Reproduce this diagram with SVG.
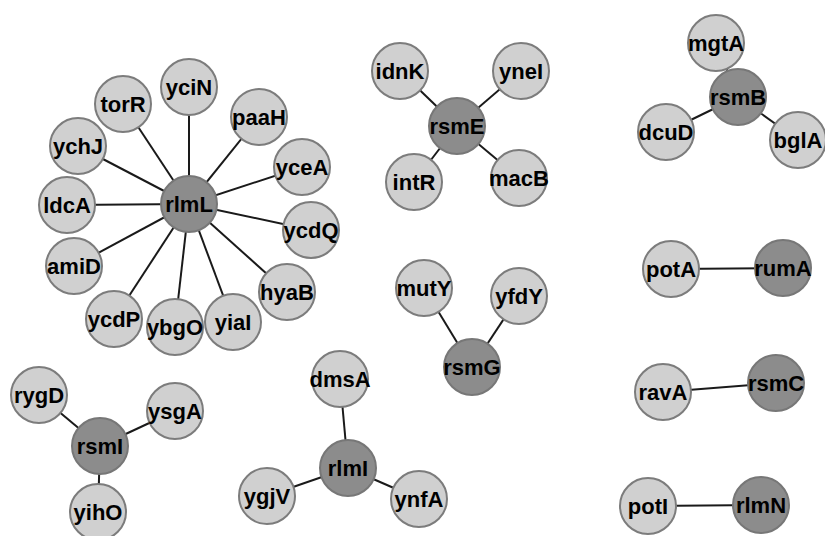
<svg xmlns="http://www.w3.org/2000/svg" width="825" height="536" viewBox="0 0 825 536">
<style>
.e{stroke:#1a1a1a;stroke-width:2;fill:none}
.n circle{fill:#d0d0d0;stroke:#7c7c7c;stroke-width:2}
.h circle{fill:#8c8c8c;stroke:#777;stroke-width:2}
text{font-family:"Liberation Sans",Arial,sans-serif;font-weight:bold;font-size:22px;fill:#000;text-anchor:middle;dominant-baseline:central}
</style>
<rect width="825" height="536" fill="#fff"/>
<g id="edges">
<line class="e" x1="189" y1="204" x2="189" y2="87"/>
<line class="e" x1="189" y1="204" x2="123" y2="104"/>
<line class="e" x1="189" y1="204" x2="259" y2="117"/>
<line class="e" x1="189" y1="204" x2="78" y2="146"/>
<line class="e" x1="189" y1="204" x2="302" y2="167"/>
<line class="e" x1="189" y1="204" x2="67" y2="205"/>
<line class="e" x1="189" y1="204" x2="311" y2="230"/>
<line class="e" x1="189" y1="204" x2="74" y2="266"/>
<line class="e" x1="189" y1="204" x2="287" y2="292"/>
<line class="e" x1="189" y1="204" x2="114" y2="319"/>
<line class="e" x1="189" y1="204" x2="175" y2="327"/>
<line class="e" x1="189" y1="204" x2="233" y2="322"/>
<line class="e" x1="457" y1="126" x2="400" y2="71"/>
<line class="e" x1="457" y1="126" x2="521" y2="71"/>
<line class="e" x1="457" y1="126" x2="414" y2="182"/>
<line class="e" x1="457" y1="126" x2="519" y2="178"/>
<line class="e" x1="738" y1="97" x2="716" y2="43"/>
<line class="e" x1="738" y1="97" x2="666" y2="132"/>
<line class="e" x1="738" y1="97" x2="798" y2="140"/>
<line class="e" x1="472" y1="367" x2="424" y2="288"/>
<line class="e" x1="472" y1="367" x2="519" y2="296"/>
<line class="e" x1="671" y1="269" x2="783" y2="268"/>
<line class="e" x1="663" y1="392" x2="776" y2="383"/>
<line class="e" x1="648" y1="506" x2="761" y2="505"/>
<line class="e" x1="100" y1="446" x2="39" y2="395"/>
<line class="e" x1="100" y1="446" x2="175" y2="411"/>
<line class="e" x1="100" y1="446" x2="98" y2="512"/>
<line class="e" x1="348" y1="468" x2="340" y2="379"/>
<line class="e" x1="348" y1="468" x2="267" y2="496"/>
<line class="e" x1="348" y1="468" x2="419" y2="499"/>
</g>
<g id="rlmL" class="h"><circle cx="189" cy="204" r="28"/><text x="189" y="204">rlmL</text></g>
<g id="yciN" class="n"><circle cx="189" cy="87" r="28"/><text x="189" y="87">yciN</text></g>
<g id="torR" class="n"><circle cx="123" cy="104" r="28"/><text x="123" y="104">torR</text></g>
<g id="paaH" class="n"><circle cx="259" cy="117" r="28"/><text x="259" y="117">paaH</text></g>
<g id="ychJ" class="n"><circle cx="78" cy="146" r="28"/><text x="78" y="146">ychJ</text></g>
<g id="yceA" class="n"><circle cx="302" cy="167" r="28"/><text x="302" y="167">yceA</text></g>
<g id="ldcA" class="n"><circle cx="67" cy="205" r="28"/><text x="67" y="205">ldcA</text></g>
<g id="ycdQ" class="n"><circle cx="311" cy="230" r="28"/><text x="311" y="230">ycdQ</text></g>
<g id="amiD" class="n"><circle cx="74" cy="266" r="28"/><text x="74" y="266">amiD</text></g>
<g id="hyaB" class="n"><circle cx="287" cy="292" r="28"/><text x="287" y="292">hyaB</text></g>
<g id="ycdP" class="n"><circle cx="114" cy="319" r="28"/><text x="114" y="319">ycdP</text></g>
<g id="ybgO" class="n"><circle cx="175" cy="327" r="28"/><text x="175" y="327">ybgO</text></g>
<g id="yiaI" class="n"><circle cx="233" cy="322" r="28"/><text x="233" y="322">yiaI</text></g>
<g id="rsmE" class="h"><circle cx="457" cy="126" r="28"/><text x="457" y="126">rsmE</text></g>
<g id="idnK" class="n"><circle cx="400" cy="71" r="28"/><text x="400" y="71">idnK</text></g>
<g id="yneI" class="n"><circle cx="521" cy="71" r="28"/><text x="521" y="71">yneI</text></g>
<g id="intR" class="n"><circle cx="414" cy="182" r="28"/><text x="414" y="182">intR</text></g>
<g id="macB" class="n"><circle cx="519" cy="178" r="28"/><text x="519" y="178">macB</text></g>
<g id="rsmB" class="h"><circle cx="738" cy="97" r="28"/><text x="738" y="97">rsmB</text></g>
<g id="mgtA" class="n"><circle cx="716" cy="43" r="28"/><text x="716" y="43">mgtA</text></g>
<g id="dcuD" class="n"><circle cx="666" cy="132" r="28"/><text x="666" y="132">dcuD</text></g>
<g id="bglA" class="n"><circle cx="798" cy="140" r="28"/><text x="798" y="140">bglA</text></g>
<g id="rsmG" class="h"><circle cx="472" cy="367" r="28"/><text x="472" y="367">rsmG</text></g>
<g id="mutY" class="n"><circle cx="424" cy="288" r="28"/><text x="424" y="288">mutY</text></g>
<g id="yfdY" class="n"><circle cx="519" cy="296" r="28"/><text x="519" y="296">yfdY</text></g>
<g id="potA" class="n"><circle cx="671" cy="269" r="28"/><text x="671" y="269">potA</text></g>
<g id="rumA" class="h"><circle cx="783" cy="268" r="28"/><text x="783" y="268">rumA</text></g>
<g id="ravA" class="n"><circle cx="663" cy="392" r="28"/><text x="663" y="392">ravA</text></g>
<g id="rsmC" class="h"><circle cx="776" cy="383" r="28"/><text x="776" y="383">rsmC</text></g>
<g id="potI" class="n"><circle cx="648" cy="506" r="28"/><text x="648" y="506">potI</text></g>
<g id="rlmN" class="h"><circle cx="761" cy="505" r="28"/><text x="761" y="505">rlmN</text></g>
<g id="rsmI" class="h"><circle cx="100" cy="446" r="28"/><text x="100" y="446">rsmI</text></g>
<g id="rygD" class="n"><circle cx="39" cy="395" r="28"/><text x="39" y="395">rygD</text></g>
<g id="ysgA" class="n"><circle cx="175" cy="411" r="28"/><text x="175" y="411">ysgA</text></g>
<g id="yihO" class="n"><circle cx="98" cy="512" r="28"/><text x="98" y="512">yihO</text></g>
<g id="rlmI" class="h"><circle cx="348" cy="468" r="28"/><text x="348" y="468">rlmI</text></g>
<g id="dmsA" class="n"><circle cx="340" cy="379" r="28"/><text x="340" y="379">dmsA</text></g>
<g id="ygjV" class="n"><circle cx="267" cy="496" r="28"/><text x="267" y="496">ygjV</text></g>
<g id="ynfA" class="n"><circle cx="419" cy="499" r="28"/><text x="419" y="499">ynfA</text></g>
</svg>
